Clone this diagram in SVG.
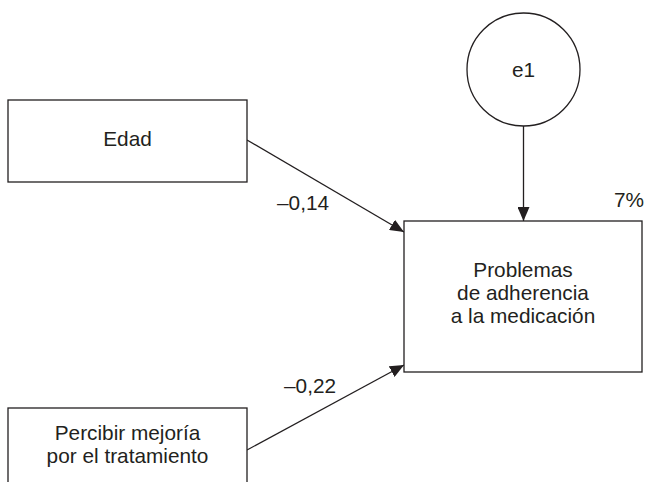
<svg xmlns="http://www.w3.org/2000/svg" width="646" height="482" viewBox="0 0 646 482">
<style>
.box{fill:#fff;stroke:#231f20;stroke-width:1.3}
.t{font-family:"Liberation Sans",Arial,sans-serif;font-size:20.8px;fill:#231f20;text-anchor:middle}
.lbl{font-family:"Liberation Sans",Arial,sans-serif;font-size:20.8px;fill:#231f20}
.edge{stroke:#231f20;stroke-width:1.3;fill:none;marker-end:url(#arr)}
</style>
<defs>
<marker id="arr" markerUnits="userSpaceOnUse" markerWidth="14" markerHeight="12" viewBox="0 0 14 12" refX="14" refY="6" orient="auto">
<path d="M0,0 L14,6 L0,12 Z" fill="#231f20"/>
</marker>
</defs>
<rect width="646" height="482" fill="#fff"/>
<g id="connectors">
<line class="edge" x1="247" y1="140" x2="404" y2="232"/>
<line class="edge" x1="247" y1="450" x2="404" y2="365"/>
<line class="edge" x1="523.5" y1="126" x2="523.5" y2="221"/>
<text class="lbl" x="277" y="210">–0,14</text>
<text class="lbl" x="284" y="393">–0,22</text>
</g>
<g id="e1">
<circle class="box" cx="523.5" cy="69.5" r="56.5"/>
<text class="t" x="523.5" y="77">e1</text>
</g>
<g id="edad">
<rect class="box" x="8" y="100" width="239" height="82"/>
<text class="t" x="127.5" y="146">Edad</text>
</g>
<g id="percibir">
<rect class="box" x="8" y="408" width="239" height="90"/>
<text class="t" x="127.5" y="440">Percibir mejoría</text>
<text class="t" x="127.5" y="463">por el tratamiento</text>
</g>
<g id="problemas">
<rect class="box" x="404" y="221" width="238" height="151"/>
<text class="t" x="523" y="277">Problemas</text>
<text class="t" x="523" y="300">de adherencia</text>
<text class="t" x="523" y="323">a la medicación</text>
<text class="lbl" x="614" y="207">7%</text>
</g>
</svg>
